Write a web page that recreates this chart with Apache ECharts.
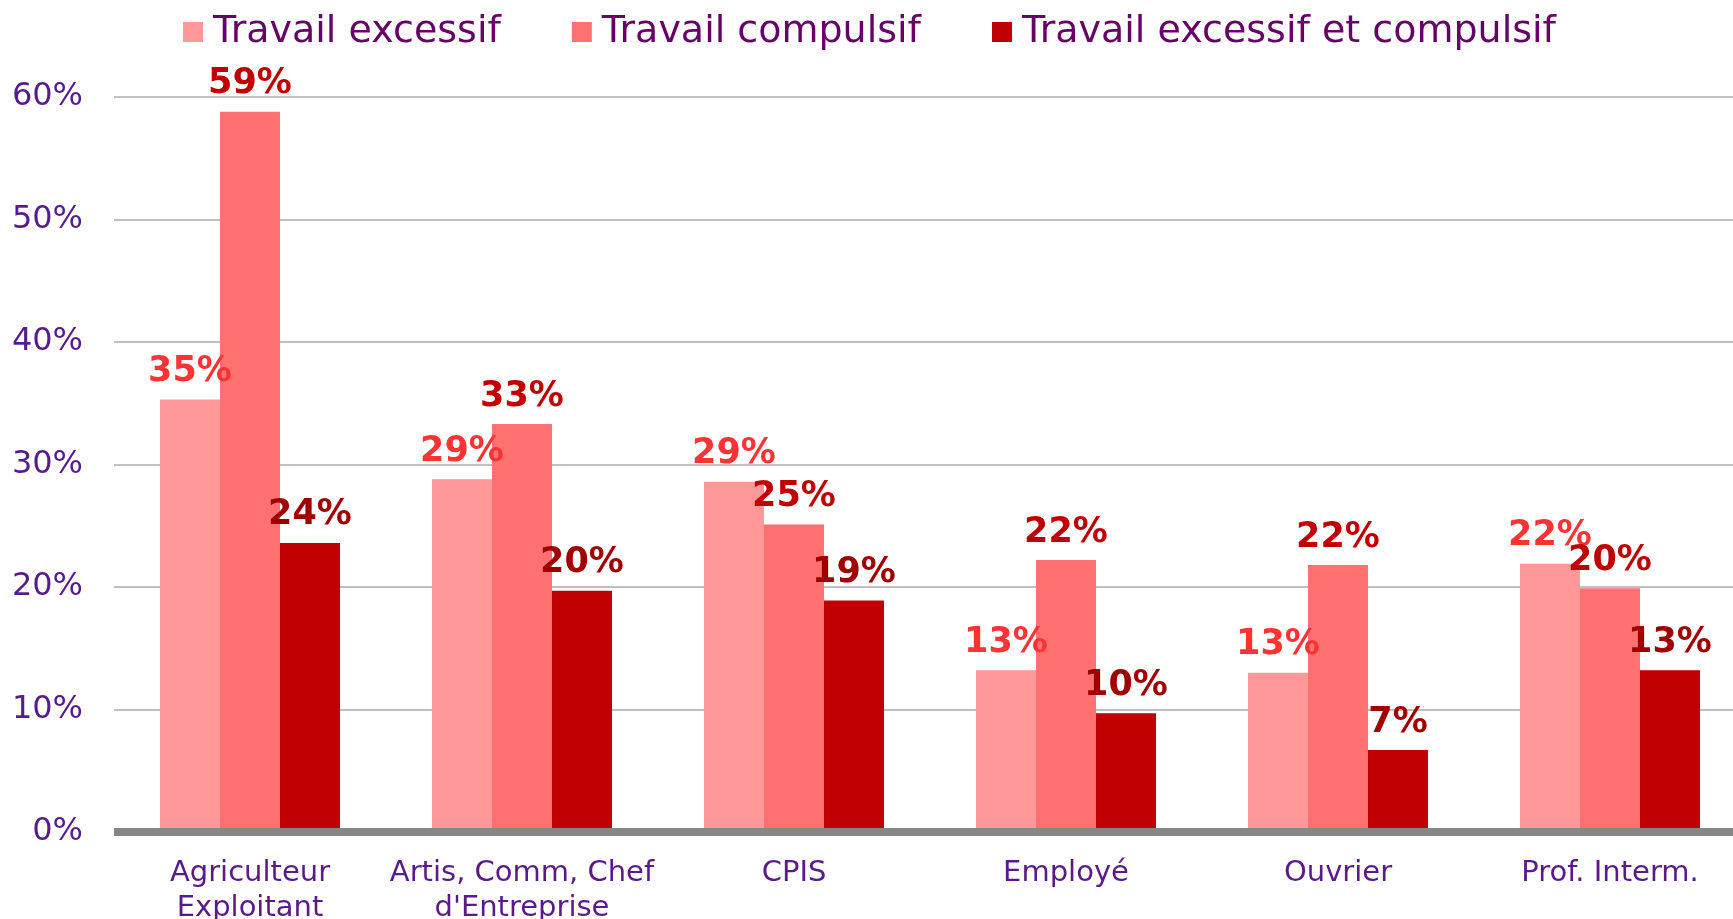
<!DOCTYPE html>
<html>
<head>
<meta charset="utf-8">
<script src="https://cdn.jsdelivr.net/npm/echarts@6/dist/echarts.min.js"></script>
<style>
  html, body { margin: 0; padding: 0; background: #fff; overflow: hidden; }
  #main { width: 1733px; height: 919px; }
</style>
</head>
<body>
<div id="main"></div>
<script>
// categories and series (percent)
var categories = ['Agriculteur\nExploitant', 'Artis, Comm, Chef\nd\'Entreprise', 'CPIS', 'Employé', 'Ouvrier', 'Prof. Interm.'];
var seriesNames = ['Travail excessif', 'Travail compulsif', 'Travail excessif et compulsif'];
var excessif = [35.3, 28.8, 28.6, 13.2, 13.0, 21.9];
var compulsif = [58.8, 33.3, 25.1, 22.2, 21.8, 19.9];
var excessifCompulsif = [23.6, 19.7, 18.9, 9.7, 6.7, 13.2];
var yTicks = [0, 10, 20, 30, 40, 50, 60];

var barColors = ['#FF9999', '#FF7171', '#C00000'];
var labelColors = ['#FF3333', '#C00000', '#A00000'];
var font = 'DejaVu Sans, Verdana, sans-serif';

var myChart = echarts.init(document.getElementById('main'));

function mkSeries(i, data) {
    return {
        name: seriesNames[i],
        type: 'bar',
        data: data,
        barWidth: 60,
        barGap: '0%',
        itemStyle: { color: barColors[i] },
        label: {
            show: true,
            position: 'top',
            distance: 10,
            fontFamily: font,
            fontWeight: 'bold',
            fontSize: 35,
            color: labelColors[i],
            formatter: function (p) { return Math.round(p.value) + '%'; }
        }
    };
}

var option = {
    animation: false,
    backgroundColor: '#fff',
    legend: {
        left: 178,
        top: 7,
        itemWidth: 20,
        itemHeight: 20,
        itemGap: 71,
        icon: 'rect',
        textStyle: {
            fontFamily: font,
            fontSize: 38,
            lineHeight: 40,
            color: '#660066',
            padding: [0, 0, 0, 5]
        },
        data: seriesNames
    },
    grid: {
        left: 114,
        top: 97,
        width: 1632,
        bottom: 87,
        outerBoundsMode: 'none'
    },
    xAxis: {
        type: 'category',
        data: categories,
        z: 5,
        axisLine: { show: true, lineStyle: { color: '#868686', width: 8, cap: 'butt' } },
        axisTick: { show: false },
        axisLabel: {
            margin: 24,
            fontFamily: font,
            fontSize: 29,
            lineHeight: 35,
            color: '#5A1A8A',
            interval: 0
        }
    },
    yAxis: {
        type: 'value',
        min: yTicks[0],
        max: yTicks[yTicks.length - 1],
        interval: 10,
        axisLine: { show: false },
        axisTick: { show: false },
        splitLine: { lineStyle: { color: '#C0C0C0', width: 2 } },
        axisLabel: {
            margin: 31,
            fontFamily: font,
            fontSize: 32,
            color: '#561C8C',
            formatter: '{value}%'
        }
    },
    series: [
        mkSeries(0, excessif),
        mkSeries(1, compulsif),
        mkSeries(2, excessifCompulsif)
    ]
};

myChart.setOption(option);
</script>
</body>
</html>
